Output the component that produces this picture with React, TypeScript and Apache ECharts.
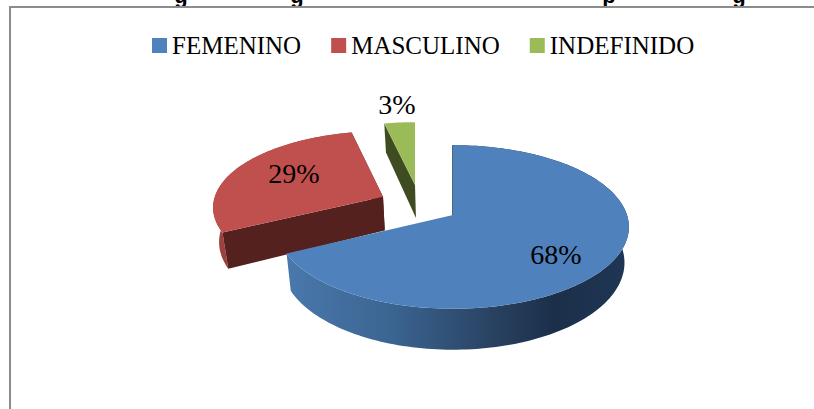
import React, { useEffect, useRef } from "react";
import * as echarts from "echarts";

const categories = ["FEMENINO", "MASCULINO", "INDEFINIDO"];
// Estimated shares; the chart prints them rounded (68%, 29%, 3%)
const percentages = [67.6, 29.0, 3.4];
const topColors = ["#4f81bd", "#c0504d", "#9bbb59"];
const cutColors = ["#1c3047", "#55211f", "#3f4c22"];
const total = percentages.reduce((a, b) => a + b, 0);

// Perspective pie geometry (a circle on a tilted plane, projected on the screen)
const CX = 453, CY = 215, R = 174, TILT = 0.46, PERSP = 0.146, DEPTH = 35, CONVERGE = 0.025;
const SHIFT_X = [0, -70, -38];
const SHIFT_BACK = [0, 41, 69];
const LABEL_AT = [[556, 254], [294, 173], [397, 104]];
const DRAW_ORDER = [3, 2, 1];

function project(index: number, px: number, py: number) {
  const back = py + SHIFT_BACK[index];
  const w = 1 + (PERSP * back) / R;
  return [CX + SHIFT_X[index] + px / w, CY - (TILT * back) / w, w];
}
function dropped(p: number[]) {
  return [p[0] + (CX - p[0]) * CONVERGE, p[1] + DEPTH / p[2]];
}

function sliceRenderer(index: number) {
  return (_params: any, api: any) => {
    const value = api.value(0);
    const before = percentages.slice(0, index).reduce((a, b) => a + b, 0);
    const a0 = (before / total) * 2 * Math.PI;
    const a1 = ((before + value) / total) * 2 * Math.PI;
    const vertex = project(index, 0, 0);
    const rim: number[][] = [];
    const steps = Math.max(4, Math.round((a1 - a0) * 40));
    for (let i = 0; i <= steps; i++) {
      const a = a0 + ((a1 - a0) * i) / steps;
      rim.push(project(index, R * Math.sin(a), R * Math.cos(a)));
    }
    const xy = (p: number[]) => [p[0], p[1]];
    const rimWall = [...rim.map(xy), ...rim.slice().reverse().map(dropped)];
    const first = rim[0];
    const cut = (p: number[]) => [xy(vertex), xy(p), dropped(p), dropped(vertex)];
    const rimFill: any =
      index === 0
        ? new echarts.graphic.LinearGradient(0, 0, 1, 0, [
            { offset: 0, color: "#4a78ac" },
            { offset: 0.3, color: "#3b6592" },
            { offset: 0.62, color: "#28405f" },
            { offset: 0.78, color: "#1b2f49" },
            { offset: 1, color: "#1f3655" },
          ])
        : "#9c413e";
    const poly = (points: number[][], fill: any, stroke?: string) => ({
      type: "polygon",
      shape: { points },
      style: { fill, stroke: stroke || "none", lineWidth: stroke ? 1 : 0 },
    });
    return {
      type: "group",
      children: [
        ...(index < 2 ? [poly(rimWall, rimFill)] : []),
        poly(cut(first), cutColors[index], index === 0 ? cutColors[0] : undefined),
        ...(index === 1 ? [poly(cut(rim[rim.length - 1]), cutColors[index])] : []),
        poly([xy(vertex), ...rim.map(xy)], topColors[index]),
        {
          type: "text",
          x: LABEL_AT[index][0],
          y: LABEL_AT[index][1],
          style: {
            text: `${Math.round(value)}%`,
            fill: "#000",
            font: "28px 'Liberation Serif'",
            align: "center",
            verticalAlign: "middle",
          },
        },
      ],
    };
  };
}

export default function App() {
  const ref = useRef<HTMLDivElement>(null);
  useEffect(() => {
    document.body.style.margin = "0";
    const chart = echarts.init(ref.current!, undefined, { renderer: "svg" });
    chart.setOption({
      animation: false,
      color: topColors,
      legend: {
        data: categories.map((name) => ({ name, icon: "rect" })),
        left: 147,
        top: 28,
        itemWidth: 15,
        itemHeight: 15,
        itemGap: 30,
        selectedMode: false,
        textStyle: { fontFamily: "Liberation Serif", fontSize: 25, color: "#000" },
      },
      graphic: [
        {
          type: "polyline",
          shape: { points: [[10, 420], [10, 7], [830, 7]] },
          style: { stroke: "#8c8c8c", lineWidth: 2, fill: "none" },
        },
        ...[
          ["g", 181],
          ["g", 297],
          ["p", 609],
          ["g", 739],
        ].map(([text, x]) => ({
          type: "text",
          x,
          y: 6,
          z: -1,
          style: {
            text,
            fill: "#000",
            font: "bold 22px 'Liberation Sans'",
            align: "center",
            verticalAlign: "bottom",
          },
        })),
      ],
      series: categories.map((name, i) => ({
        type: "custom",
        name,
        coordinateSystem: "none",
        z: DRAW_ORDER[i],
        data: [[percentages[i]]],
        renderItem: sliceRenderer(i),
      })),
    });
    return () => chart.dispose();
  }, []);
  return <div ref={ref} style={{ width: 814, height: 409 }} />;
}
